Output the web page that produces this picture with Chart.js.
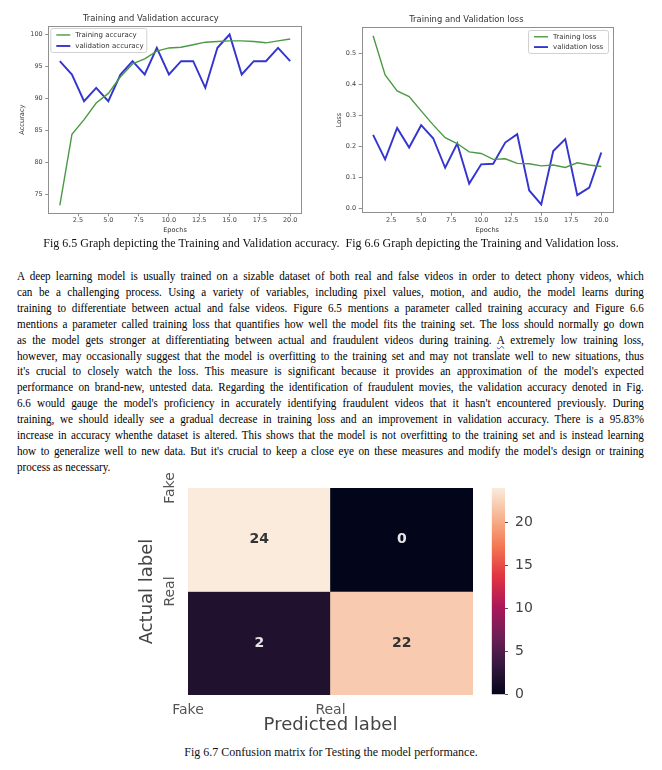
<!DOCTYPE html>
<html>
<head>
<meta charset="utf-8">
<script src="https://cdn.jsdelivr.net/npm/chart.js@4.4.0/dist/chart.umd.min.js"></script>
<style>
  body { margin: 0; background: #fff; width: 662px; height: 770px; position: relative; overflow: hidden;
         font-family: "Liberation Serif", "Times New Roman", serif; color: #111; }
  canvas { position: absolute; }
  .cap { position: absolute; left: 0; width: 662px; text-align: center; font-size: 12px; line-height: 15px; white-space: nowrap; }
  #para { position: absolute; left: 17px; top: 269px; width: 677px; font-size: 12px; line-height: 15.9px; color: #000;
          transform: scaleX(0.926); transform-origin: 0 0; }
  #para div { text-align: justify; text-align-last: justify; white-space: nowrap; }
  #para div.last { text-align-last: left; }
  .sq { text-decoration: underline wavy #3a5fd0; text-decoration-thickness: 1px; }
</style>
</head>
<body>
<canvas id="acc" width="320" height="240" style="left:0;top:0"></canvas>
<canvas id="loss" width="342" height="240" style="left:320px;top:0"></canvas>

<div class="cap" style="top:235.5px">Fig 6.5 Graph depicting the Training and Validation accuracy.&nbsp; Fig 6.6 Graph depicting the Training and Validation loss.</div>

<div id="para">
  <div>A deep learning model is usually trained on a sizable dataset of both real and false videos in order to detect phony videos, which</div>
  <div>can be a challenging process. Using a variety of variables, including pixel values, motion, and audio, the model learns during</div>
  <div>training to differentiate between actual and false videos. Figure 6.5 mentions a parameter called training accuracy and Figure 6.6</div>
  <div>mentions a parameter called training loss that quantifies how well the model fits the training set. The loss should normally go down</div>
  <div>as the model gets stronger at differentiating between actual and fraudulent videos during training. <span class="sq">A</span> extremely low training loss,</div>
  <div>however, may occasionally suggest that the model is overfitting to the training set and may not translate well to new situations, thus</div>
  <div>it's crucial to closely watch the loss. This measure is significant because it provides an approximation of the model's expected</div>
  <div>performance on brand-new, untested data. Regarding the identification of fraudulent movies, the validation accuracy denoted in Fig.</div>
  <div>6.6 would gauge the model's proficiency in accurately identifying fraudulent videos that it hasn't encountered previously. During</div>
  <div>training, we should ideally see a gradual decrease in training loss and an improvement in validation accuracy. There is a 95.83%</div>
  <div>increase in accuracy whenthe dataset is altered. This shows that the model is not overfitting to the training set and is instead learning</div>
  <div>how to generalize well to new data. But it's crucial to keep a close eye on these measures and modify the model's design or training</div>
  <div class="last">process as necessary.</div>
</div>

<canvas id="cm" width="370" height="280" style="left:120px;top:460px"></canvas>
<canvas id="cbar" width="80" height="250" style="left:480px;top:460px"></canvas>

<div class="cap" style="top:744.5px">Fig 6.7 Confusion matrix for Testing the model performance.</div>

<script>
// training curves
const epochs = [1, 2, 3, 4, 5, 6, 7, 8, 9, 10, 11, 12, 13, 14, 15, 16, 17, 18, 19, 20];
const trainAcc = [73.3, 84.4, 86.7, 89.3, 90.8, 93.4, 95.4, 96.2, 97.4, 97.9, 98.0, 98.4, 98.8, 98.9, 99.0, 99.0, 98.9, 98.7, 99.0, 99.3];
const valAcc = [95.83, 93.75, 89.58, 91.67, 89.58, 93.75, 95.83, 93.75, 97.92, 93.75, 95.83, 95.83, 91.67, 97.92, 100.0, 93.75, 95.83, 95.83, 97.92, 95.83];
const trainLoss = [0.556, 0.430, 0.378, 0.360, 0.314, 0.269, 0.228, 0.209, 0.182, 0.177, 0.158, 0.160, 0.145, 0.144, 0.137, 0.140, 0.132, 0.147, 0.140, 0.135];
const valLoss = [0.237, 0.158, 0.259, 0.196, 0.268, 0.226, 0.131, 0.209, 0.080, 0.142, 0.144, 0.212, 0.239, 0.058, 0.013, 0.185, 0.223, 0.043, 0.067, 0.180];

const epochTicks = [2.5, 5, 7.5, 10, 12.5, 15, 17.5, 20];
const accTicks = [75, 80, 85, 90, 95, 100];
const lossTicks = [0, 0.1, 0.2, 0.3, 0.4, 0.5];

// confusion matrix (rows = actual, cols = predicted)
const cmClasses = ['Fake', 'Real'];
const cmValues = [[24, 0], [2, 22]];
const cbTicks = [0, 5, 10, 15, 20];

Chart.defaults.font.family = 'DejaVu Sans';
Chart.defaults.animation = false;
Chart.defaults.events = [];

// seaborn "rocket" colormap, approximated by a few stops
const rocketStops = [[0, '#03051a'], [1 / 7, '#35193e'], [2 / 7, '#701f57'], [3 / 7, '#ad1759'],
                     [4 / 7, '#e13342'], [5 / 7, '#f37651'], [6 / 7, '#f6b48f'], [1, '#faebdd']];
function hexRgb(h) { return [1, 3, 5].map(i => parseInt(h.substr(i, 2), 16)); }
function rocket(t) {
  t = Math.max(0, Math.min(1, t));
  for (let i = 1; i < rocketStops.length; i++) {
    const [t1, c1] = rocketStops[i];
    const [t0, c0] = rocketStops[i - 1];
    if (t <= t1) {
      const f = (t - t0) / (t1 - t0), a = hexRgb(c0), b = hexRgb(c1);
      return 'rgb(' + a.map((v, k) => Math.round(v + (b[k] - v) * f)).join(',') + ')';
    }
  }
  return rocketStops[rocketStops.length - 1][1];
}

// frame around plot area (matplotlib spines)
const framePlugin = {
  id: 'frame',
  afterDatasetsDraw(chart) {
    const a = chart.chartArea, ctx = chart.ctx;
    ctx.save();
    ctx.strokeStyle = '#8f8f8f';
    ctx.lineWidth = 1;
    ctx.strokeRect(Math.round(a.left) + 0.5, Math.round(a.top) + 0.5, Math.round(a.right - a.left), Math.round(a.bottom - a.top));
    ctx.restore();
  }
};

// legend drawn inside the axes
const insideLegend = {
  id: 'insideLegend',
  afterDatasetsDraw(chart, args, o) {
    const ctx = chart.ctx, a = chart.chartArea;
    const x0 = o.side === 'left' ? a.left + o.dx : a.right - o.dx - o.w;
    const y0 = a.top + o.dy;
    ctx.save();
    ctx.fillStyle = 'rgba(255,255,255,0.85)';
    ctx.strokeStyle = '#d0d0d0';
    ctx.lineWidth = 1;
    ctx.beginPath();
    ctx.roundRect(x0 + 0.5, y0 + 0.5, o.w, o.h, 2);
    ctx.fill();
    ctx.stroke();
    ctx.font = '7px "DejaVu Sans"';
    ctx.textBaseline = 'middle';
    chart.data.datasets.forEach((ds, i) => {
      const y = y0 + o.first + i * o.row;
      ctx.strokeStyle = ds.borderColor;
      ctx.lineWidth = ds.borderWidth;
      ctx.beginPath();
      ctx.moveTo(x0 + 6, y);
      ctx.lineTo(x0 + 20, y);
      ctx.stroke();
      ctx.fillStyle = '#333';
      ctx.fillText(ds.label, x0 + 25, y);
    });
    ctx.restore();
  }
};

function pts(ys) { return epochs.map((e, i) => ({ x: e, y: ys[i] })); }

function curveChart(id, cfg) {
  return new Chart(document.getElementById(id), {
    type: 'line',
    data: {
      datasets: [
        { label: cfg.labels[0], data: pts(cfg.train), borderColor: '#4b9a43', borderWidth: 1.4, pointRadius: 0, tension: 0 },
        { label: cfg.labels[1], data: pts(cfg.val), borderColor: '#3434d0', borderWidth: 1.9, pointRadius: 0, tension: 0 }
      ]
    },
    options: {
      responsive: false,
      layout: { padding: { left: 0, right: cfg.padRight, top: 0, bottom: 0 } },
      scales: {
        x: {
          type: 'linear', min: 0.05, max: 20.95,
          afterBuildTicks: s => { s.ticks = epochTicks.map(v => ({ value: v })); },
          afterFit: s => { s.height = cfg.xH; },
          ticks: { font: { size: 6.5 }, color: '#444', padding: 0.5, maxRotation: 0, callback: v => v.toFixed(1) },
          grid: { display: true, drawOnChartArea: false, tickLength: 3, tickColor: '#8f8f8f' },
          border: { display: false },
          title: { display: true, text: 'Epochs', font: { size: 6.6 }, color: '#333', padding: { top: 0, bottom: 5.3 } }
        },
        y: {
          type: 'linear', min: cfg.yMin, max: cfg.yMax,
          afterBuildTicks: s => { s.ticks = cfg.yTicks.map(v => ({ value: v })); },
          afterFit: s => { s.width = cfg.yW; },
          ticks: { font: { size: 6.5 }, color: '#444', padding: 2.6, callback: cfg.yFmt },
          grid: { display: true, drawOnChartArea: false, tickLength: 3, tickColor: '#8f8f8f' },
          border: { display: false },
          title: { display: true, text: cfg.yTitle, font: { size: 6.6 }, color: '#333', padding: { top: cfg.yTitlePad, bottom: 0 } }
        }
      },
      plugins: {
        legend: { display: false },
        tooltip: { enabled: false },
        title: { display: true, text: cfg.title, font: { size: 8.4, weight: 'normal' }, color: '#333', padding: cfg.titlePad },
        insideLegend: cfg.legend
      }
    },
    plugins: [framePlugin, insideLegend]
  });
}

curveChart('acc', {
  labels: ['Training accuracy', 'validation accuracy'],
  train: trainAcc, val: valAcc,
  title: 'Training and Validation accuracy', titlePad: { top: 13.3, bottom: 2.6 },
  yTitle: 'Accuracy', yTitlePad: 18.7,
  yMin: 72.07, yMax: 101.33, yTicks: accTicks, yFmt: v => String(v),
  yW: 48.3, xH: 26.7, padRight: 18.3,
  legend: { side: 'left', dx: 2, dy: 2, w: 96, h: 24, first: 7, row: 11 }
});

curveChart('loss', {
  labels: ['Training loss', 'validation loss'],
  train: trainLoss, val: valLoss,
  title: 'Training and Validation loss', titlePad: { top: 15, bottom: 2.2 },
  yTitle: 'Loss', yTitlePad: 15,
  yMin: -0.0136, yMax: 0.583, yTicks: lossTicks, yFmt: v => v.toFixed(1),
  yW: 41.7, xH: 27.3, padRight: 49.3,
  legend: { side: 'right', dx: 4.7, dy: 2.7, w: 80, h: 23, first: 6.8, row: 10.3 }
});

// ---- confusion matrix heatmap ----
const vmax = Math.max(...cmValues.flat());
const nCls = cmClasses.length;

const cellLabels = {
  id: 'cellLabels',
  afterDatasetsDraw(chart) {
    const ctx = chart.ctx;
    ctx.save();
    ctx.font = 'bold 14px "DejaVu Sans"';
    ctx.textAlign = 'center';
    ctx.textBaseline = 'middle';
    chart.data.datasets.forEach((ds, r) => {
      chart.getDatasetMeta(r).data.forEach((el, c) => {
        const v = cmValues[r][c];
        ctx.fillStyle = v / vmax > 0.6 ? '#333' : '#e6e6e6';
        ctx.fillText(String(v), el.x, (el.y + el.base) / 2);
      });
    });
    ctx.restore();
  }
};

new Chart(document.getElementById('cm'), {
  type: 'bar',
  data: {
    datasets: cmValues.map((row, r) => ({
      label: cmClasses[r],
      data: row.map((v, c) => ({ x: c + 0.5, y: [nCls - r - 1, nCls - r] })),
      backgroundColor: row.map(v => rocket(v / vmax)),
      borderWidth: 0,
      barPercentage: 1,
      categoryPercentage: 1,
      grouped: false
    }))
  },
  options: {
    responsive: false,
    layout: { padding: { left: 0, right: 17, top: 28, bottom: 0 } },
    scales: {
      x: {
        type: 'linear', min: 0, max: nCls, offset: false,
        afterBuildTicks: s => { s.ticks = cmClasses.map((n, i) => ({ value: i })); },
        afterFit: s => { s.height = 45; },
        ticks: { font: { size: 14 }, color: '#555', padding: 6.6, maxRotation: 0, callback: v => cmClasses[v] },
        grid: { display: false, drawTicks: false },
        border: { display: false },
        title: { display: true, text: 'Predicted label', font: { size: 18 }, color: '#444', padding: { top: 0, bottom: 4.2 } }
      },
      y: {
        type: 'linear', min: 0, max: nCls,
        afterBuildTicks: s => { s.ticks = cmClasses.map((n, i) => ({ value: nCls - i })); },
        afterFit: s => { s.width = 68; },
        ticks: { font: { size: 14 }, color: '#555', padding: 2.3, minRotation: 90, maxRotation: 90,
                 crossAlign: 'center', callback: v => cmClasses[nCls - v] },
        grid: { display: false, drawTicks: false },
        border: { display: false },
        title: { display: true, text: 'Actual label', font: { size: 18 }, color: '#444', padding: { top: 16.2, bottom: 0 } }
      }
    },
    plugins: { legend: { display: false }, tooltip: { enabled: false } }
  },
  plugins: [cellLabels]
});

// colour bar
new Chart(document.getElementById('cbar'), {
  type: 'bar',
  data: {
    labels: [''],
    datasets: [{
      data: [[0, vmax]],
      borderWidth: 0,
      barPercentage: 1,
      categoryPercentage: 1,
      backgroundColor: c => {
        const a = c.chart.chartArea;
        if (!a) return rocket(0.5);
        const g = c.chart.ctx.createLinearGradient(0, a.bottom, 0, a.top);
        rocketStops.forEach(([t, col]) => g.addColorStop(t, col));
        return g;
      }
    }]
  },
  options: {
    responsive: false,
    layout: { padding: { left: 11.7, right: 0, top: 28, bottom: 15 } },
    scales: {
      x: { display: false },
      y: {
        position: 'right', min: 0, max: vmax,
        afterBuildTicks: s => { s.ticks = cbTicks.map(v => ({ value: v })); },
        afterFit: s => { s.width = 55; },
        ticks: { font: { size: 14 }, color: '#444', padding: 7 },
        grid: { display: true, drawOnChartArea: false, tickLength: 3, tickColor: '#555' },
        border: { display: false }
      }
    },
    plugins: { legend: { display: false }, tooltip: { enabled: false } }
  }
});
</script>
</body>
</html>
